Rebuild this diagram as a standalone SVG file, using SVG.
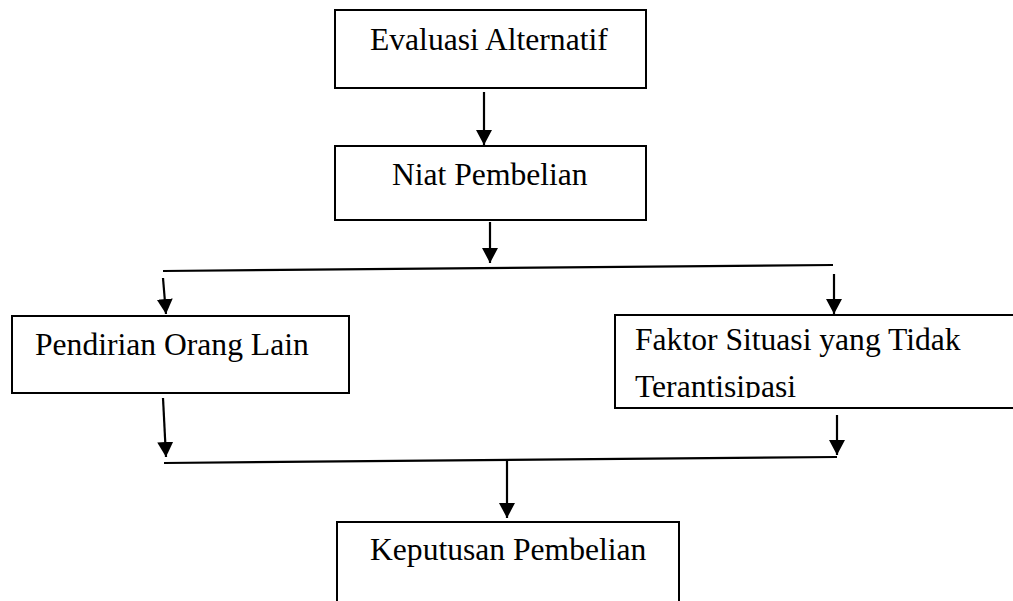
<svg xmlns="http://www.w3.org/2000/svg" width="1013" height="601" viewBox="0 0 1013 601">
<style>
.box{fill:#fff;stroke:#000;stroke-width:2}
.lbl{font-family:"Liberation Serif","Times New Roman",serif;font-size:31.6px;fill:#000}
.ln{stroke:#000;stroke-width:2.2;fill:none}
.ar{stroke:#000;stroke-width:2.2;fill:none;marker-end:url(#ah)}
</style>
<defs>
<marker id="ah" markerUnits="userSpaceOnUse" markerWidth="16" markerHeight="16" viewBox="0 0 16 16" refX="15" refY="8" orient="auto">
<path d="M0,0 L15,8 L0,16 Z" fill="#000"/>
</marker>
<clipPath id="clipR"><rect x="615" y="315" width="400" height="83"/></clipPath>
</defs>
<rect width="1013" height="601" fill="#fff"/>
<g id="n1">
<rect class="box" x="335" y="10" width="311" height="78"/>
<text class="lbl" x="370" y="50">Evaluasi Alternatif</text>
</g>
<g id="n2">
<rect class="box" x="335" y="146" width="311" height="74"/>
<text class="lbl" x="392" y="185">Niat Pembelian</text>
</g>
<g id="n3">
<rect class="box" x="12" y="316" width="337" height="77"/>
<text class="lbl" x="35" y="355">Pendirian Orang Lain</text>
</g>
<g id="n4">
<rect class="box" x="615" y="315" width="410" height="93"/>
<text class="lbl" x="635" y="350">Faktor Situasi yang Tidak</text>
<text class="lbl" x="635" y="397" clip-path="url(#clipR)">Terantisipasi</text>
</g>
<g id="n5">
<rect class="box" x="337" y="522" width="342" height="100"/>
<text class="lbl" x="370" y="560">Keputusan Pembelian</text>
</g>
<g id="connectors">
<line class="ar" x1="484" y1="92" x2="484" y2="145"/>
<line class="ar" x1="490" y1="222" x2="490" y2="263"/>
<line class="ln" x1="163" y1="271" x2="833" y2="265"/>
<line class="ar" x1="163" y1="278" x2="166" y2="314"/>
<line class="ar" x1="834" y1="274" x2="834" y2="314"/>
<line class="ar" x1="163" y1="398" x2="166" y2="457"/>
<line class="ar" x1="837" y1="415" x2="837" y2="455"/>
<line class="ln" x1="164" y1="463" x2="837" y2="457"/>
<line class="ar" x1="507" y1="460" x2="507" y2="518"/>
</g>
</svg>
